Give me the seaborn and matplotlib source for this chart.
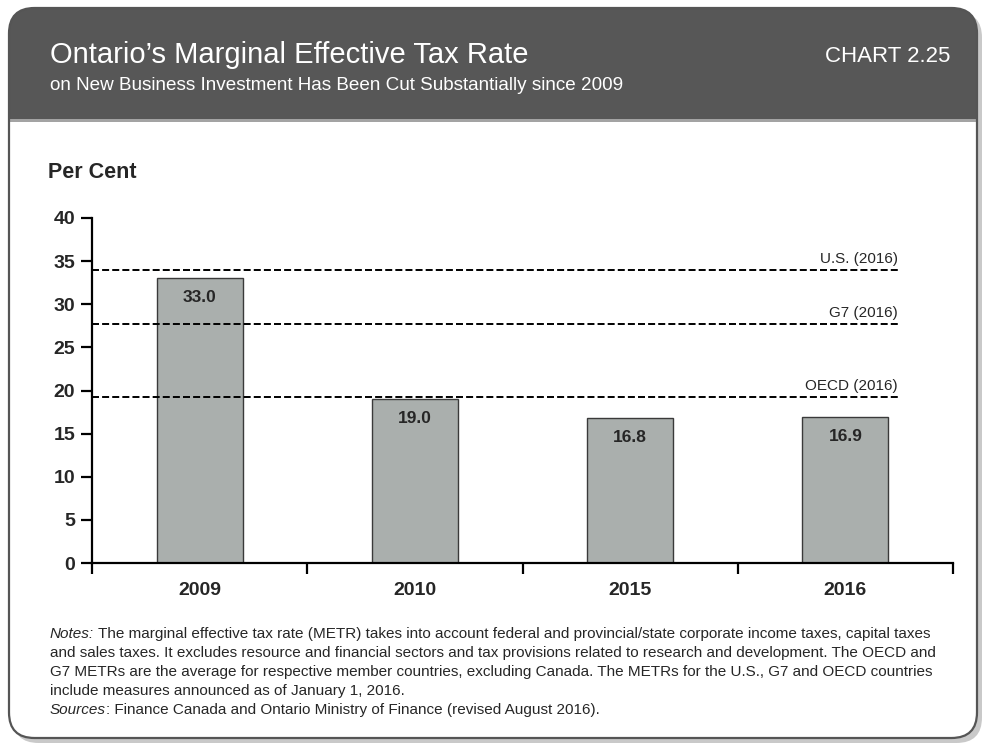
import numpy as np
import pandas as pd
import seaborn as sns
import matplotlib.pyplot as plt
from matplotlib.patches import FancyBboxPatch, Rectangle
from matplotlib.ticker import FixedLocator

years = ['2009', '2010', '2015', '2016']
metr = [33.0, 19.0, 16.8, 16.9]

ref_names = ['U.S. (2016)', 'G7 (2016)', 'OECD (2016)']
ref_values = [34.0, 27.7, 19.3]

title = 'Ontario\u2019s Marginal Effective Tax Rate'
subtitle = 'on New Business Investment Has Been Cut Substantially since 2009'
chart_no = 'CHART 2.25'
notes_lines = [
    ' The marginal effective tax rate (METR) takes into account federal and provincial/state corporate income taxes, capital taxes',
    'and sales taxes. It excludes resource and financial sectors and tax provisions related to research and development. The OECD and',
    'G7 METRs are the average for respective member countries, excluding Canada. The METRs for the U.S., G7 and OECD countries',
    'include measures announced as of January 1, 2016.',
]
sources = ': Finance Canada and Ontario Ministry of Finance (revised August 2016).'

sns.set_style('white')
plt.rcParams['font.family'] = ['Liberation Sans', 'DejaVu Sans']

W, H = 984, 744
fig = plt.figure(figsize=(W / 100, H / 100), dpi=100)


def fx(px):
    return px / W


def fy(py):
    return 1 - py / H


def rbox(x0, y0, x1, y1, **kw):
    p = FancyBboxPatch((fx(x0), fy(y1)), fx(x1) - fx(x0), fy(y0) - fy(y1),
                       boxstyle='round,pad=0,rounding_size=0.026', transform=fig.transFigure,
                       mutation_aspect=W / H, **kw)
    fig.patches.append(p)


def rect(x0, y0, x1, y1, **kw):
    fig.patches.append(Rectangle((fx(x0), fy(y1)), fx(x1) - fx(x0), fy(y0) - fy(y1),
                                 transform=fig.transFigure, **kw))


# card with shadow and dark header
rbox(13, 12, 982, 743, facecolor='#c9c9c9', edgecolor='none', zorder=-6)
rbox(9, 8, 977, 738, facecolor='white', edgecolor='none', zorder=-5)
rbox(9, 8, 977, 170, facecolor='#575757', edgecolor='none', zorder=-4)
rect(9, 122, 977, 180, facecolor='white', edgecolor='none', zorder=-3)
rect(9, 119, 977, 122, facecolor='#a3a3a3', edgecolor='none', zorder=-3)
rbox(9, 8, 977, 738, facecolor='none', edgecolor='#555555', linewidth=1.6, zorder=-2)

fig.text(fx(50), fy(63), title, color='white', fontsize=21, va='baseline')
fig.text(fx(50), fy(90), subtitle, color='white', fontsize=13.6, va='baseline')
fig.text(fx(950), fy(62), chart_no, color='white', fontsize=16, va='baseline', ha='right')

ax = fig.add_axes([fx(92), fy(563), fx(953) - fx(92), fy(218) - fy(563)])
df = pd.DataFrame({'year': years, 'metr': metr})
sns.barplot(data=df, x='year', y='metr', color='#aaafad', saturation=1, width=0.4,
            edgecolor='#3a3a3a', linewidth=1.0, ax=ax, zorder=2)

for i, v in enumerate(metr):
    ax.annotate(f'{v:.1f}', (i, v), xytext=(0, -14), textcoords='offset points',
                ha='center', va='center', fontsize=12.5, fontweight='bold')

line_end = (898 - 92) / (953 - 92)
for name, v in zip(ref_names, ref_values):
    ax.axhline(v, xmin=0, xmax=line_end, color='black', linestyle=(0, (3.6, 1.6)),
               linewidth=1.4, zorder=3)
    ax.annotate(name, (-0.5 + 4 * line_end, v), xytext=(0, 5), textcoords='offset points',
                ha='right', va='baseline', fontsize=11)

ax.set_xlim(-0.5, 3.5)
ax.set_ylim(0, 40)
ax.set_yticks(np.arange(0, 41, 5))
ax.set_xlabel('')
ax.set_ylabel('')
ax.xaxis.set_minor_locator(FixedLocator([-0.5, 0.5, 1.5, 2.5, 3.5]))
ax.tick_params(axis='x', which='major', bottom=True, length=0, pad=14, labelsize=14)
ax.tick_params(axis='x', which='minor', bottom=True, length=8, width=1.6,
               direction='out', color='black')
ax.tick_params(axis='y', which='major', left=True, length=8, width=1.6, direction='out',
               color='black', labelsize=14, pad=4)
for lab in ax.get_xticklabels() + ax.get_yticklabels():
    lab.set_fontweight('bold')
sns.despine(ax=ax)
for s in ['left', 'bottom']:
    ax.spines[s].set_linewidth(1.6)
    ax.spines[s].set_color('black')
    ax.spines[s].set_zorder(4)

fig.text(fx(48), fy(172), 'Per Cent', fontsize=15.5, fontweight='bold', va='center')

# notes block: italic lead words then regular text
renderer = fig.canvas.get_renderer()
base = [638, 657, 676, 695, 714]
lead = fig.text(fx(50), fy(base[0]), 'Notes:', fontsize=11, fontstyle='italic', va='baseline')
lead_w = lead.get_window_extent(renderer).width
fig.text(fx(50 + lead_w), fy(base[0]), notes_lines[0], fontsize=11, va='baseline')
for y, line in zip(base[1:4], notes_lines[1:]):
    fig.text(fx(50), fy(y), line, fontsize=11, va='baseline')
lead = fig.text(fx(50), fy(base[4]), 'Sources', fontsize=11, fontstyle='italic', va='baseline')
lead_w = lead.get_window_extent(renderer).width
fig.text(fx(50 + lead_w), fy(base[4]), sources, fontsize=11, va='baseline')

fig.savefig('out.png', dpi=100)
